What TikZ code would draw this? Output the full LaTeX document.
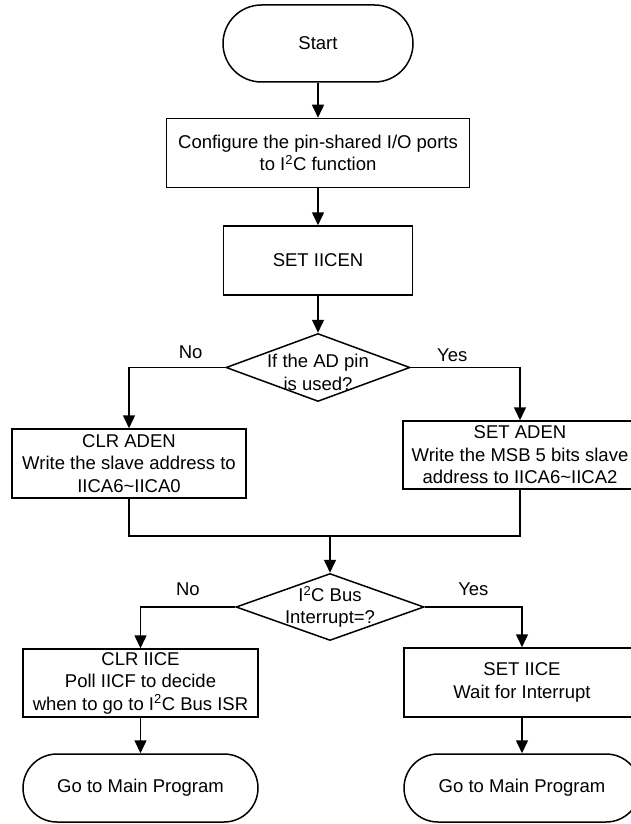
\documentclass[tikz,border=0pt]{standalone}
\usepackage{fontspec}
\setmainfont{Liberation Sans}
\usetikzlibrary{shapes.geometric, arrows.meta, positioning}
\newcommand{\flowfont}{\fontsize{18.5}{22.5}\selectfont}

\begin{document}
\begin{tikzpicture}[
    x=1pt, y=-1pt,
    node distance=35pt,
    box/.style={rectangle, draw, line width=1.5pt, align=center, inner sep=2pt, font=\flowfont},
    terminal/.style={rectangle, draw, line width=1.5pt, align=center, font=\flowfont},
    decision/.style={diamond, draw, line width=1.5pt, inner sep=0pt},
    txt/.style={align=center, font=\flowfont},
    arrow/.style={line width=1.5pt, -{Triangle[length=13pt, width=12pt]}},
    line/.style={line width=1.5pt}
  ]
    \useasboundingbox (0,0) rectangle (630,824);
    % main column
    \node[terminal, minimum width=190pt, minimum height=77pt, rounded corners=38.5pt] (start) at (318,43.5) {Start};
    \node[box, minimum width=303pt, minimum height=69pt, below=35pt of start] (config) {Configure the pin-shared I/O ports\\to I\textsuperscript{2}C function};
    \node[box, minimum width=189pt, minimum height=69pt, below=37pt of config] (seticen) {SET IICEN};
    \node[decision, minimum width=184pt, minimum height=68pt, below=37pt of seticen] (addec) {};
    \node[txt, yshift=-5pt] at (addec) {If the AD pin\\is used?};
    % address branches
    \node[box, minimum width=234pt, minimum height=69pt] (clraden) at (129,463.5) {CLR ADEN\\Write the slave address to\\IICA6\textasciitilde IICA0};
    \node[box, minimum width=234pt, minimum height=68pt] (setaden) at (520,455) {SET ADEN\\Write the MSB 5 bits slave\\address to IICA6\textasciitilde IICA2};
    \coordinate (merge) at (330,536);
    % interrupt decision
    \node[decision, minimum width=188pt, minimum height=67pt] (intdec) at (330,607) {};
    \node[txt] at (intdec) {I\textsuperscript{2}C Bus\\Interrupt=?};
    \node[box, minimum width=235pt, minimum height=68pt] (clriice) at (140.5,683) {CLR IICE\\Poll IICF to decide\\when to go to I\textsuperscript{2}C Bus ISR};
    \node[box, minimum width=236pt, minimum height=69pt] (setiice) at (522,682.5) {SET IICE\\Wait for Interrupt};
    \node[terminal, minimum width=235pt, minimum height=68pt, rounded corners=34pt] (mainl) at (140.5,788) {Go to Main Program};
    \node[terminal, minimum width=236pt, minimum height=68pt, rounded corners=34pt] (mainr) at (522,788) {Go to Main Program};

    \draw[arrow] (start) -- (config);
    \draw[arrow] (config) -- (seticen);
    \draw[arrow] (seticen) -- (addec);
    \draw[arrow] (addec.west) -| node[txt, pos=0.18, above, yshift=5pt] {No} (clraden);
    \draw[arrow] (addec.east) -| node[txt, pos=0.19, above, yshift=2pt] {Yes} (setaden);
    \draw[line] (clraden) |- (setaden.south |- merge) -- (setaden);
    \draw[arrow] (merge) -- (intdec);
    \draw[arrow] (intdec.west) -| node[txt, pos=0.25, above, yshift=7pt] {No} (clriice);
    \draw[arrow] (intdec.east) -| node[txt, pos=0.25, above, yshift=7pt] {Yes} (setiice);
    \draw[arrow] (clriice) -- (mainl);
    \draw[arrow] (setiice) -- (mainr);
\end{tikzpicture}
\end{document}
